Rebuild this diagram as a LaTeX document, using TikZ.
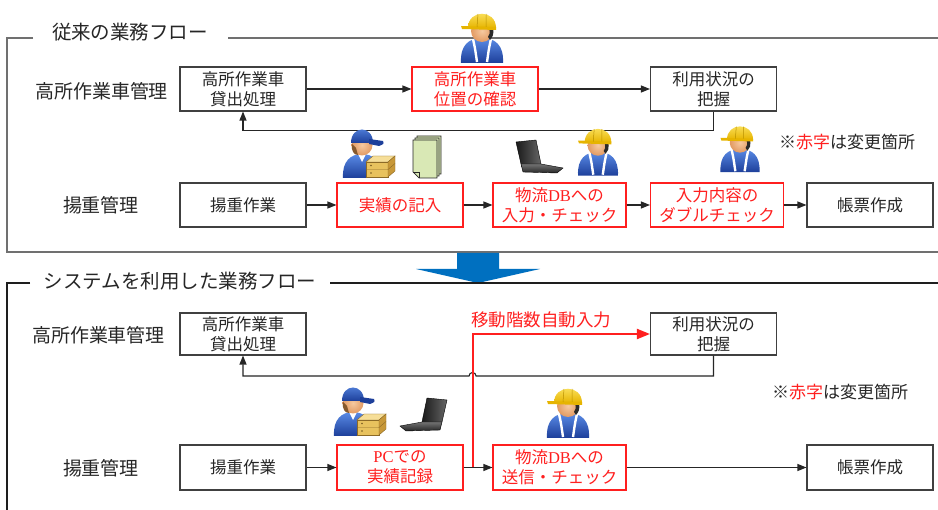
\documentclass[tikz,border=0pt]{standalone}
\usepackage{fontspec}
\usetikzlibrary{arrows.meta,calc}
\setmainfont{Noto Sans CJK JP}
\newfontfamily\latinserif{Liberation Serif}

\definecolor{txt}{HTML}{262626}
\definecolor{boxgray}{HTML}{404040}
\definecolor{chred}{HTML}{FF1F1F}
\definecolor{frameA}{HTML}{707070}
\definecolor{frameB}{HTML}{1E1E1E}
\definecolor{arrowblue}{HTML}{0070C0}
\definecolor{skin}{HTML}{E29A62}
\definecolor{skinlight}{HTML}{F6C9A0}
\definecolor{hair}{HTML}{2A2A2A}
\definecolor{hatlight}{HTML}{FFEA70}
\definecolor{hatdark}{HTML}{E6B400}
\definecolor{suitlight}{HTML}{5A8BE6}
\definecolor{suitdark}{HTML}{1D3F9A}
\definecolor{boxface}{HTML}{E8C25E}
\definecolor{boxtop}{HTML}{F6DE98}
\definecolor{boxside}{HTML}{C89838}
\definecolor{paper}{HTML}{D9E8B5}

\tikzset{
  % process boxes
  stepbox/.style={draw=boxgray, line width=1.1pt, minimum width=126pt,
    minimum height=44pt, inner sep=0pt, align=center, text=txt,
    font=\fontsize{16.5}{20}\selectfont},
  widebox/.style={stepbox, minimum width=133pt},
  redbox/.style={draw=chred, text=chred},
  rowlabel/.style={text=txt, font=\fontsize{19}{22}\selectfont, inner sep=0pt},
  paneltitle/.style={text=txt, font=\fontsize{19.5}{22}\selectfont, inner sep=0pt},
  notetext/.style={text=txt, font=\fontsize{17}{20}\selectfont, inner sep=0pt},
  flow/.style={draw=txt, line width=1.1pt, -{Triangle[length=9pt,width=7pt]}},
  redflow/.style={draw=chred, line width=2pt, -{Triangle[length=13pt,width=10pt]}},
  % worker with a hard hat
  hatworker/.pic={
    \shade[top color=suitlight, bottom color=suitdark]
      (-21,26) .. controls (-22,8) and (-13,1) .. (0,1)
      .. controls (13,1) and (22,8) .. (21,26) -- cycle;
    \draw[white, line width=2.4pt] (-9,2) .. controls (-7,11) .. (-5,25);
    \draw[white, line width=2.4pt] (9,2) .. controls (7,11) .. (5,25);
    \shade[inner color=skinlight, outer color=skin] (0,-6) circle[radius=11];
    \fill[hair] (4,-14) .. controls (13,-12) and (13,-2) .. (8,3)
      -- (6,0) .. controls (9,-4) and (8,-9) .. (4,-11) -- cycle;
    \shade[top color=hatlight, bottom color=hatdark]
      (-14,-9) .. controls (-14,-28) and (14,-28) .. (14,-9) -- cycle;
    \fill[hatdark] (-21,-11) -- (14,-10) -- (14,-7) -- (-20,-8) -- cycle;
    \draw[hatdark!80!black, line width=0.5pt] (-4,-23) -- (-5,-10) (4,-23) -- (4,-10);
  },
  % worker with a cap carrying boxes
  porter/.pic={
    \shade[top color=suitlight, bottom color=suitdark]
      (-26,25) .. controls (-27,8) and (-18,1) .. (-7,1)
      .. controls (4,1) and (12,8) .. (13,25) -- cycle;
    \fill[white] (-11,1) -- (-3,1) -- (-7,9) -- cycle;
    \shade[inner color=skinlight, outer color=skin] (-7,-8) circle[radius=10.5];
    \fill[brown!70!black] (-17,-9) .. controls (-18,-2) and (-15,2) .. (-11,2)
      -- (-13,-5) -- cycle;
    \shade[top color=suitlight, bottom color=suitdark]
      (-18,-10) .. controls (-18,-28) and (4,-28) .. (4,-10) -- cycle;
    \fill[suitdark] (0,-14) -- (14,-12) .. controls (15,-9) .. (10,-7)
      -- (0,-9) -- cycle;
    \filldraw[fill=boxface, draw=boxside!70!black, line width=0.4pt]
      (-3,9) rectangle (19,24);
    \filldraw[fill=boxtop, draw=boxside!70!black, line width=0.4pt]
      (-3,9) -- (4,3) -- (26,3) -- (19,9) -- cycle;
    \filldraw[fill=boxside, draw=boxside!70!black, line width=0.4pt]
      (19,9) -- (26,3) -- (26,18) -- (19,24) -- cycle;
    \draw[boxside!70!black, line width=0.4pt] (-3,16.5) -- (19,16.5) -- (26,10.5);
    \fill[boxside!60!black] (2,12.5) circle[radius=0.9] (2,20) circle[radius=0.9];
  },
  % stack of sheets
  sheets/.pic={
    \foreach \d in {4,2,0}{
      \filldraw[fill=paper, draw=txt, line width=0.7pt]
        (-14+\d,-18-\d) -- (10+\d,-18-\d) -- (10+\d,20-\d) -- (-8+\d,20-\d)
        -- (-14+\d,14-\d) -- cycle;
    }
    \draw[txt, line width=0.7pt] (-14,14) -- (-8,14) -- (-8,20);
  },
  % notebook computer
  notebook/.pic={
    \shade[left color=black!90, right color=black!60, draw=black, line width=0.4pt]
      (-23,-15) -- (-3,-17) -- (2,7) -- (-18,7) -- cycle;
    \shade[top color=black!55, bottom color=black!85, draw=black, line width=0.4pt]
      (-18,7) -- (2,7) -- (24,11) -- (18,16) -- (-16,15) -- cycle;
  },
}

\begin{document}
\begin{tikzpicture}[x=1pt,y=-1pt]
\useasboundingbox (0,0) rectangle (938,510);
\fill[white] (0,0) rectangle (938,510);

% ---------- conventional flow ----------
\draw[frameA, line width=1.1pt] (33,38) -- (7,38) -- (7,252) -- (938,252);
\draw[frameA, line width=1.1pt] (228,38) -- (938,38);
\node[paneltitle] (t1) at (130,32) {従来の業務フロー};

\node[rowlabel] (r1a) at (101.5,91) {高所作業車管理};
\node[rowlabel] (r1b) at (101,205) {揚重管理};

\node[stepbox] (a1) at (243,89) {高所作業車\\貸出処理};
\node[stepbox, redbox] (a2) at (475,89) {高所作業車\\位置の確認};
\node[stepbox] (a3) at (713.5,89) {利用状況の\\把握};

\node[stepbox] (b1) at (243,205) {揚重作業};
\node[stepbox, redbox] (b2) at (400,205) {実績の記入};
\node[widebox, redbox] (b3) at (559.5,205) {物流{\latinserif DB}への\\入力・チェック};
\node[widebox, redbox] (b4) at (717,205) {入力内容の\\ダブルチェック};
\node[stepbox] (b5) at (870,205) {帳票作成};

\draw[flow] (a1) -- (a2);
\draw[flow] (a2) -- (a3);
\draw[flow] (a3.south) -- ++(0,19) -| (a1.south);
\draw[flow] (b1) -- (b2);
\draw[flow] (b2) -- (b3);
\draw[flow] (b3) -- (b4);
\draw[flow] (b4) -- (b5);

\node[notetext] (n1) at (847,142) {※{\color{chred}赤字}は変更箇所};

\pic at (482,37) {hatworker};
\pic at (369,153) {porter};
\pic at (427,158) {sheets};
\pic at (539,157) {notebook};
\pic[scale=0.95] at (598,151) {hatworker};
\pic[scale=0.93] at (740,148) {hatworker};

% ---------- transition arrow ----------
\fill[arrowblue] (457,253) -- (499,253) -- (499,269) -- (540,269)
  -- (478,283) -- (416,269) -- (457,269) -- cycle;

% ---------- flow with the system ----------
\draw[frameB, line width=1.1pt] (30,283) -- (7,283) -- (7,510);
\draw[frameB, line width=1.1pt] (330,283) -- (938,283);
\node[paneltitle] (t2) at (180,281) {システムを利用した業務フロー};

\node[rowlabel] (r2a) at (98.5,335) {高所作業車管理};
\node[rowlabel] (r2b) at (101,468) {揚重管理};

\node[stepbox, minimum height=42pt] (c1) at (243,334) {高所作業車\\貸出処理};
\node[stepbox, minimum height=42pt] (c3) at (713.5,334) {利用状況の\\把握};

\node[stepbox, minimum height=45pt] (d1) at (243,467.5) {揚重作業};
\node[stepbox, minimum height=45pt, redbox] (d2) at (400,467.5) {{\latinserif PC}での\\実績記録};
\node[widebox, minimum height=45pt, redbox] (d3) at (559.5,467.5) {物流{\latinserif DB}への\\送信・チェック};
\node[stepbox, minimum height=45pt] (d5) at (870,467.5) {帳票作成};

\draw[flow] (d1) -- (d2);
\draw[flow] (d2) -- (d3);
\draw[flow] (d3) -- (d5);

\coordinate (branch) at ([xshift=9pt]d2.east);
\coordinate (retline) at (0,376);
\draw[flow] (c3.south) -- (c3.south |- retline)
  -- ([xshift=3.5pt]branch |- retline) arc[start angle=0, end angle=-180, radius=3.5]
  -- (c1.south |- retline) -- (c1.south);
\draw[redflow] (branch) -- (branch |- c3.west) -- (c3.west);
\node[text=chred, font=\fontsize{17.5}{20}\selectfont, inner sep=0pt]
  (auto) at (541,320) {移動階数自動入力};

\node[notetext] (n2) at (840,392) {※{\color{chred}赤字}は変更箇所};

\pic at (360,411) {porter};
\pic[xscale=-1] at (424,415) {notebook};
\pic at (568,412) {hatworker};
\end{tikzpicture}
\end{document}
